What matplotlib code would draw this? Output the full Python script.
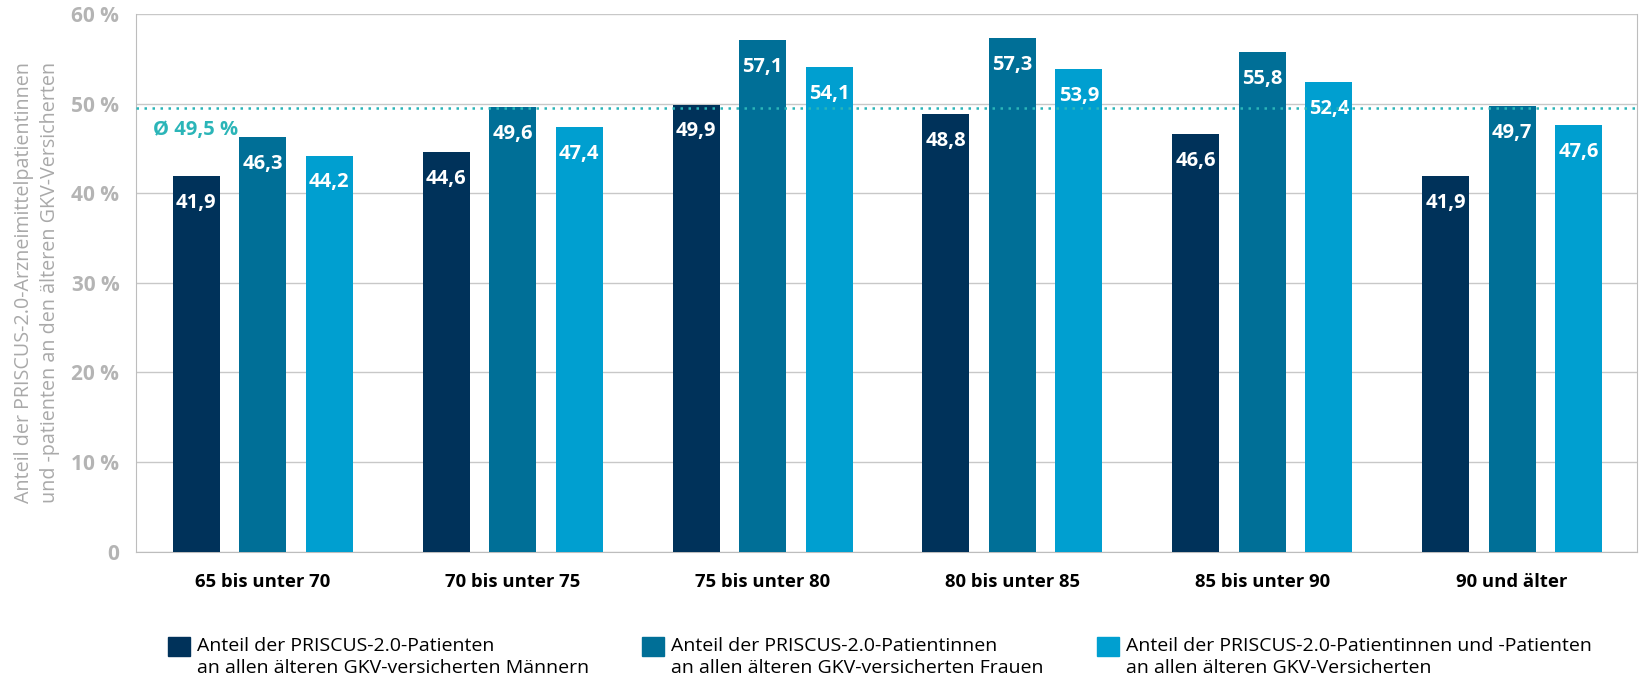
import matplotlib
matplotlib.use("Agg")
import matplotlib.pyplot as plt
from matplotlib.patches import Patch, Rectangle
from matplotlib.legend_handler import HandlerPatch
import numpy as np

plt.rcParams['font.family'] = ['Open Sans', 'DejaVu Sans']

categories = ["65 bis unter 70", "70 bis unter 75", "75 bis unter 80",
              "80 bis unter 85", "85 bis unter 90", "90 und älter"]
maenner = [41.9, 44.6, 49.9, 48.8, 46.6, 41.9]
frauen = [46.3, 49.6, 57.1, 57.3, 55.8, 49.7]
gesamt = [44.2, 47.4, 54.1, 53.9, 52.4, 47.6]
durchschnitt = 49.5

series_labels = [
    "Anteil der PRISCUS-2.0-Patienten\nan allen älteren GKV-versicherten Männern",
    "Anteil der PRISCUS-2.0-Patientinnen\nan allen älteren GKV-versicherten Frauen",
    "Anteil der PRISCUS-2.0-Patientinnen und -Patienten\nan allen älteren GKV-Versicherten",
]
colors = ["#00325a", "#006f97", "#009fd0"]
grey = "#b4b4b4"
avg_color = "#2bb5b8"

fig = plt.figure(figsize=(16.42, 6.82), dpi=100)
ax = fig.add_axes([0.0828, 0.191, 0.9142, 0.7885])

x = np.arange(len(categories))
width = 0.188
step = 0.266
for i, (vals, col) in enumerate(zip([maenner, frauen, gesamt], colors)):
    pos = x + (i - 1) * step
    ax.bar(pos, vals, width, color=col, zorder=3)
    for p, v in zip(pos, vals):
        ax.text(p, v - 3.0, f"{v:.1f}".replace(".", ","), ha="center", va="center",
                color="white", fontsize=14.5, fontweight="bold", zorder=4)

ax.axhline(durchschnitt, color=avg_color, linestyle=(0, (1, 2.2)), linewidth=1.8, zorder=5)
ax.text(-0.44, 47.0, "Ø 49,5 %", color=avg_color, fontsize=14.5,
        fontweight="bold", va="center")

ax.set_ylim(0, 60)
ax.set_xlim(-0.508, 5.50)
yt = [0, 10, 20, 30, 40, 50, 60]
ax.set_yticks(yt)
ax.set_yticklabels(["0"] + [f"{t} %" for t in yt[1:]], color=grey, fontsize=15, fontweight="bold")
ax.set_xticks(x)
ax.set_xticklabels(categories, fontsize=13.3, fontweight="bold", color="black")
ax.tick_params(axis="y", length=0, pad=12)
ax.tick_params(axis="x", length=0, pad=15)
ax.grid(axis="y", color="#c8c8c8", linewidth=1, zorder=0)
for s in ["left", "right", "bottom"]:
    ax.spines[s].set_color("#bdbdbd")
ax.spines["top"].set_visible(False)

ax.set_ylabel("Anteil der PRISCUS-2.0-Arzneimittelpatientinnen\nund -patienten an den älteren GKV-Versicherten",
              color="#a9a9a9", fontsize=14.2, labelpad=8, linespacing=1.4)


# square aligned with the first text line
def top_square(legend, orig_handle, xdescent, ydescent, width, height, fontsize):
    return Rectangle((-xdescent, -ydescent + 7.5), width, height)


legend_x = [0.1023, 0.391, 0.668]
for lab, col, lx in zip(series_labels, colors, legend_x):
    leg = fig.legend(handles=[Patch(color=col, label=lab)], loc="center left",
                     bbox_to_anchor=(lx, 0.037), frameon=False, fontsize=14,
                     handlelength=1.13, handleheight=1.13, handletextpad=0.35,
                     borderpad=0, borderaxespad=0,
                     handler_map={Patch: HandlerPatch(patch_func=top_square)})
    for t in leg.get_texts():
        t.set_linespacing(1.25)

fig.savefig("out.png", dpi=100)
